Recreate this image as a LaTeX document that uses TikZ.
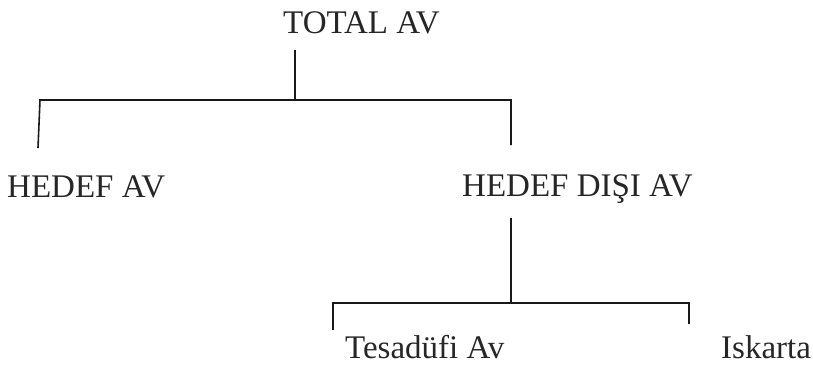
\documentclass[tikz,border=0pt]{standalone}
\usepackage{fontspec}
\setmainfont{Liberation Serif}
\begin{document}
\begin{tikzpicture}[x=1pt,y=-1pt,
  lbl/.style={inner sep=0pt,anchor=base west,font=\fontsize{33}{39}\selectfont,text=black!85},
  conn/.style={draw=black!90,line width=1.6pt},
  thick conn/.style={draw=black!90,line width=2.6pt}]
\useasboundingbox (0,0) rectangle (813,365);
% texts
\node[lbl] (total) at (283,33) {TOTAL AV};
\node[lbl] (hedef) at (7,197) {HEDEF AV};
\node[lbl] (disi) at (462,196) {HEDEF DIŞI AV};
\node[lbl,text depth=0pt] (tes) at (345,358) {Tesadüfi Av};
\node[lbl,text depth=0pt] (isk) at (721,358) {Iskarta};
% junction coordinates
\coordinate (t0) at (295,50);
\coordinate (t1) at (295,100);
\coordinate (l0) at (40,100);
\coordinate (l1) at (38,148);
\coordinate (r0) at (511,100);
\coordinate (r1) at (511,145);
\coordinate (d0) at (511,218);
\coordinate (d1) at (511,303);
\coordinate (a0) at (333,303);
\coordinate (a1) at (333,330);
\coordinate (b0) at (689,303);
\coordinate (b1) at (689,324);
% connectors
\draw[conn] (t0) -- (t1);
\draw[conn] (l1) -- (l0) -- (r0) -- (r1);
\draw[thick conn] (d0) -- (d1);
\draw[conn] (a1) -- (a0) -- (b0) -- (b1);
\end{tikzpicture}
\end{document}
